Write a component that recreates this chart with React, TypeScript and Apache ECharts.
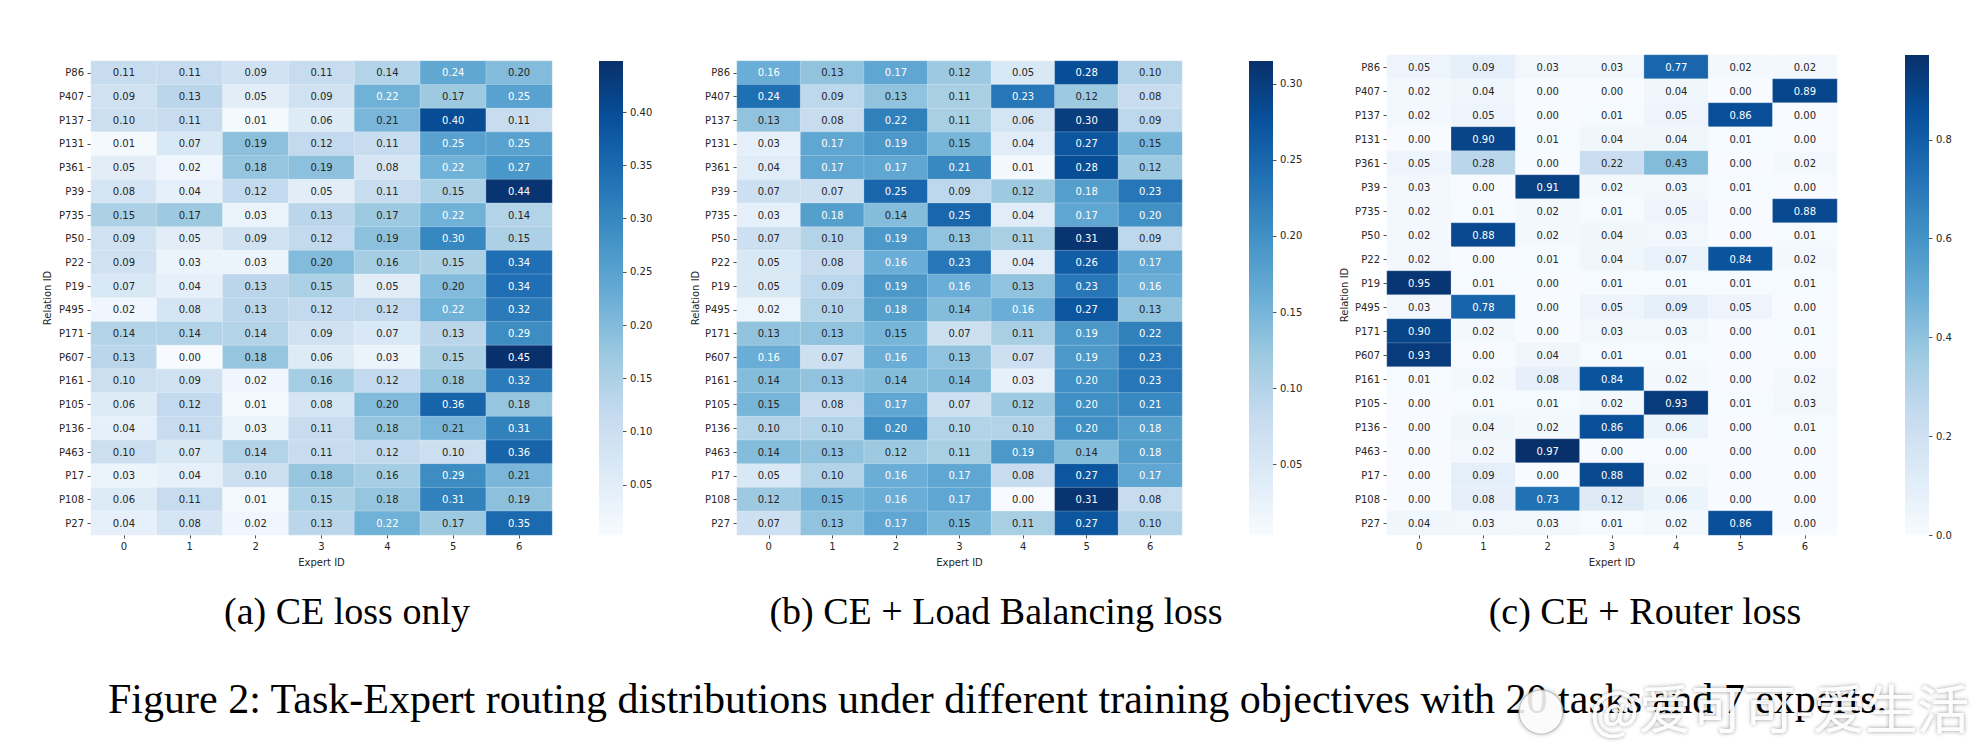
import React, { useEffect, useRef } from 'react';
import * as echarts from 'echarts';

// Relation (task) IDs, top to bottom, and expert IDs, left to right
const relations = ['P86', 'P407', 'P137', 'P131', 'P361', 'P39', 'P735', 'P50', 'P22', 'P19',
  'P495', 'P171', 'P607', 'P161', 'P105', 'P136', 'P463', 'P17', 'P108', 'P27'];
const experts = ['0', '1', '2', '3', '4', '5', '6'];

// Routing probabilities, one row per relation, one column per expert
const ceOnly = [
  [0.11, 0.11, 0.09, 0.11, 0.14, 0.24, 0.20],
  [0.09, 0.13, 0.05, 0.09, 0.22, 0.17, 0.25],
  [0.10, 0.11, 0.01, 0.06, 0.21, 0.40, 0.11],
  [0.01, 0.07, 0.19, 0.12, 0.11, 0.25, 0.25],
  [0.05, 0.02, 0.18, 0.19, 0.08, 0.22, 0.27],
  [0.08, 0.04, 0.12, 0.05, 0.11, 0.15, 0.44],
  [0.15, 0.17, 0.03, 0.13, 0.17, 0.22, 0.14],
  [0.09, 0.05, 0.09, 0.12, 0.19, 0.30, 0.15],
  [0.09, 0.03, 0.03, 0.20, 0.16, 0.15, 0.34],
  [0.07, 0.04, 0.13, 0.15, 0.05, 0.20, 0.34],
  [0.02, 0.08, 0.13, 0.12, 0.12, 0.22, 0.32],
  [0.14, 0.14, 0.14, 0.09, 0.07, 0.13, 0.29],
  [0.13, 0.00, 0.18, 0.06, 0.03, 0.15, 0.45],
  [0.10, 0.09, 0.02, 0.16, 0.12, 0.18, 0.32],
  [0.06, 0.12, 0.01, 0.08, 0.20, 0.36, 0.18],
  [0.04, 0.11, 0.03, 0.11, 0.18, 0.21, 0.31],
  [0.10, 0.07, 0.14, 0.11, 0.12, 0.10, 0.36],
  [0.03, 0.04, 0.10, 0.18, 0.16, 0.29, 0.21],
  [0.06, 0.11, 0.01, 0.15, 0.18, 0.31, 0.19],
  [0.04, 0.08, 0.02, 0.13, 0.22, 0.17, 0.35],
];

const ceLoadBalancing = [
  [0.16, 0.13, 0.17, 0.12, 0.05, 0.28, 0.10],
  [0.24, 0.09, 0.13, 0.11, 0.23, 0.12, 0.08],
  [0.13, 0.08, 0.22, 0.11, 0.06, 0.30, 0.09],
  [0.03, 0.17, 0.19, 0.15, 0.04, 0.27, 0.15],
  [0.04, 0.17, 0.17, 0.21, 0.01, 0.28, 0.12],
  [0.07, 0.07, 0.25, 0.09, 0.12, 0.18, 0.23],
  [0.03, 0.18, 0.14, 0.25, 0.04, 0.17, 0.20],
  [0.07, 0.10, 0.19, 0.13, 0.11, 0.31, 0.09],
  [0.05, 0.08, 0.16, 0.23, 0.04, 0.26, 0.17],
  [0.05, 0.09, 0.19, 0.16, 0.13, 0.23, 0.16],
  [0.02, 0.10, 0.18, 0.14, 0.16, 0.27, 0.13],
  [0.13, 0.13, 0.15, 0.07, 0.11, 0.19, 0.22],
  [0.16, 0.07, 0.16, 0.13, 0.07, 0.19, 0.23],
  [0.14, 0.13, 0.14, 0.14, 0.03, 0.20, 0.23],
  [0.15, 0.08, 0.17, 0.07, 0.12, 0.20, 0.21],
  [0.10, 0.10, 0.20, 0.10, 0.10, 0.20, 0.18],
  [0.14, 0.13, 0.12, 0.11, 0.19, 0.14, 0.18],
  [0.05, 0.10, 0.16, 0.17, 0.08, 0.27, 0.17],
  [0.12, 0.15, 0.16, 0.17, 0.00, 0.31, 0.08],
  [0.07, 0.13, 0.17, 0.15, 0.11, 0.27, 0.10],
];

const ceRouter = [
  [0.05, 0.09, 0.03, 0.03, 0.77, 0.02, 0.02],
  [0.02, 0.04, 0.00, 0.00, 0.04, 0.00, 0.89],
  [0.02, 0.05, 0.00, 0.01, 0.05, 0.86, 0.00],
  [0.00, 0.90, 0.01, 0.04, 0.04, 0.01, 0.00],
  [0.05, 0.28, 0.00, 0.22, 0.43, 0.00, 0.02],
  [0.03, 0.00, 0.91, 0.02, 0.03, 0.01, 0.00],
  [0.02, 0.01, 0.02, 0.01, 0.05, 0.00, 0.88],
  [0.02, 0.88, 0.02, 0.04, 0.03, 0.00, 0.01],
  [0.02, 0.00, 0.01, 0.04, 0.07, 0.84, 0.02],
  [0.95, 0.01, 0.00, 0.01, 0.01, 0.01, 0.01],
  [0.03, 0.78, 0.00, 0.05, 0.09, 0.05, 0.00],
  [0.90, 0.02, 0.00, 0.03, 0.03, 0.00, 0.01],
  [0.93, 0.00, 0.04, 0.01, 0.01, 0.00, 0.00],
  [0.01, 0.02, 0.08, 0.84, 0.02, 0.00, 0.02],
  [0.00, 0.01, 0.01, 0.02, 0.93, 0.01, 0.03],
  [0.00, 0.04, 0.02, 0.86, 0.06, 0.00, 0.01],
  [0.00, 0.02, 0.97, 0.00, 0.00, 0.00, 0.00],
  [0.00, 0.09, 0.00, 0.88, 0.02, 0.00, 0.00],
  [0.00, 0.08, 0.73, 0.12, 0.06, 0.00, 0.00],
  [0.04, 0.03, 0.03, 0.01, 0.02, 0.86, 0.00],
];

// Colour-scale extents and colorbar tick labels
const rangeCeOnly = [0.003, 0.448];
const rangeLoadBalancing = [0.0035, 0.315];
const rangeRouter = [0.0, 0.972];
const ticksCeOnly = [0.05, 0.10, 0.15, 0.20, 0.25, 0.30, 0.35, 0.40];
const ticksLoadBalancing = [0.05, 0.10, 0.15, 0.20, 0.25, 0.30];
const ticksRouter = [0.0, 0.2, 0.4, 0.6, 0.8];

const subCaptions = ['(a) CE loss only', '(b) CE + Load Balancing loss', '(c) CE + Router loss'];
const figureCaption = 'Figure 2: Task-Expert routing distributions under different training objectives with 20 tasks and 7 experts.';
const watermark = '@爱可可-爱生活';
const xName = 'Expert ID';
const yName = 'Relation ID';

// "Blues" sequential palette
const BLUES = ['#f7fbff', '#deebf7', '#c6dbef', '#9ecae1', '#6baed6', '#4292c6', '#2171b5', '#08519c', '#08306b'];

const TICK_FONT = '"DejaVu Sans", sans-serif';
const SERIF = '"Liberation Serif", "Times New Roman", serif';
const INK = '#262626';

function hexToRgb(h: string): number[] {
  const n = parseInt(h.slice(1), 16);
  return [(n >> 16) & 255, (n >> 8) & 255, n & 255];
}

function bluesAt(t: number): number[] {
  const c = Math.max(0, Math.min(1, t)) * (BLUES.length - 1);
  const i = Math.min(Math.floor(c), BLUES.length - 2);
  const f = c - i;
  const a = hexToRgb(BLUES[i]);
  const b = hexToRgb(BLUES[i + 1]);
  return a.map((v, k) => v + (b[k] - v) * f);
}

function luminance(rgb: number[]): number {
  const lin = rgb.map((v) => {
    const c = v / 255;
    return c <= 0.03928 ? c / 12.92 : Math.pow((c + 0.055) / 1.055, 2.4);
  });
  return 0.2126 * lin[0] + 0.7152 * lin[1] + 0.0722 * lin[2];
}

const panels = [
  {
    data: ceOnly, range: rangeCeOnly, ticks: ticksCeOnly, digits: 2,
    grid: { left: 91, top: 61, width: 461, height: 474 },
    bar: { left: 599, top: 61, width: 24, height: 474 },
    yNameX: 47, captionX: 347,
  },
  {
    data: ceLoadBalancing, range: rangeLoadBalancing, ticks: ticksLoadBalancing, digits: 2,
    grid: { left: 737, top: 61, width: 445, height: 474 },
    bar: { left: 1249, top: 61, width: 24, height: 474 },
    yNameX: 695, captionX: 996,
  },
  {
    data: ceRouter, range: rangeRouter, ticks: ticksRouter, digits: 1,
    grid: { left: 1387, top: 55, width: 450, height: 480 },
    bar: { left: 1905, top: 55, width: 24, height: 480 },
    yNameX: 1344, captionX: 1645,
  },
];

function buildOption() {
  const grids: any[] = [];
  const xAxes: any[] = [];
  const yAxes: any[] = [];
  const visualMaps: any[] = [];
  const series: any[] = [];
  const graphics: any[] = [];

  panels.forEach((p, i) => {
    grids.push({ ...p.grid, containLabel: false });
    xAxes.push({
      type: 'category', gridIndex: i, data: experts, position: 'bottom',
      axisLine: { show: false },
      axisTick: { show: true, alignWithLabel: true, length: 3.5, lineStyle: { color: INK, width: 0.8 } },
      axisLabel: { margin: 6, fontSize: 10, color: INK, fontFamily: TICK_FONT },
      splitLine: { show: false },
    });
    yAxes.push({
      type: 'category', gridIndex: i, data: relations, inverse: true,
      axisLine: { show: false },
      axisTick: { show: true, alignWithLabel: true, length: 3.5, lineStyle: { color: INK, width: 0.8 } },
      axisLabel: { margin: 7, fontSize: 10, color: INK, fontFamily: TICK_FONT },
      splitLine: { show: false },
    });
    visualMaps.push({
      type: 'continuous', show: false, seriesIndex: i, dimension: 2,
      min: p.range[0], max: p.range[1], inRange: { color: BLUES },
    });
    const cells: any[] = [];
    p.data.forEach((row, r) => {
      row.forEach((v, c) => {
        const t = (v - p.range[0]) / (p.range[1] - p.range[0]);
        const textColor = luminance(bluesAt(t)) > 0.408 ? INK : '#ffffff';
        cells.push({ value: [c, r, v], label: { color: textColor } });
      });
    });
    series.push({
      type: 'heatmap', xAxisIndex: i, yAxisIndex: i, data: cells,
      itemStyle: { borderColor: 'rgba(255,255,255,0.45)', borderWidth: 0.5 },
      label: {
        show: true, fontSize: 10, fontFamily: TICK_FONT,
        formatter: (q: any) => q.value[2].toFixed(2),
      },
      emphasis: { disabled: true },
    });
    graphics.push({
      type: 'text', x: p.yNameX, y: p.grid.top + p.grid.height / 2, rotation: Math.PI / 2,
      style: { text: yName, fill: INK, font: `10px ${TICK_FONT}`, align: 'center', verticalAlign: 'middle' },
    });
    graphics.push({
      type: 'text', x: p.grid.left + p.grid.width / 2, y: 562,
      style: { text: xName, fill: INK, font: `10px ${TICK_FONT}`, align: 'center', verticalAlign: 'middle' },
    });
    graphics.push({
      type: 'text', x: p.captionX, y: 611,
      style: { text: subCaptions[i], fill: '#000', font: `38px ${SERIF}`, align: 'center', verticalAlign: 'middle' },
    });
  });

  // Colorbars: a gradient-filled grid with a value axis carrying the ticks
  panels.forEach((p, i) => {
    const gi = panels.length + i;
    grids.push({
      ...p.bar, show: true, borderWidth: 0,
      backgroundColor: new echarts.graphic.LinearGradient(0, 1, 0, 0,
        BLUES.map((c, k) => ({ offset: k / (BLUES.length - 1), color: c }))),
    });
    xAxes.push({
      type: 'category', gridIndex: gi, data: [''], show: false,
      axisLine: { show: false, onZero: false }, axisTick: { show: false }, axisLabel: { show: false },
    });
    yAxes.push({
      type: 'value', gridIndex: gi, min: p.range[0], max: p.range[1], position: 'right',
      axisLine: { show: false, onZero: false },
      splitLine: { show: false },
      axisTick: { show: true, length: 3.5, customValues: p.ticks, lineStyle: { color: INK, width: 0.8 } },
      axisLabel: {
        show: true, customValues: p.ticks, margin: 7, fontSize: 10, color: INK, fontFamily: TICK_FONT,
        formatter: (v: number) => v.toFixed(p.digits),
      },
    });
  });

  graphics.push({
    type: 'text', x: 108, y: 699,
    style: { text: figureCaption, fill: '#000', font: `42px ${SERIF}`, align: 'left', verticalAlign: 'middle' },
  });
  graphics.push({
    type: 'circle', shape: { cx: 1541, cy: 712, r: 22 },
    style: { fill: 'rgba(255,255,255,0.85)', stroke: 'rgba(170,170,170,0.6)', lineWidth: 1.5, shadowColor: 'rgba(0,0,0,0.3)', shadowBlur: 4 },
  });
  graphics.push({
    type: 'text', x: 1590, y: 706,
    style: {
      text: watermark, fill: 'rgba(255,255,255,0.92)', font: '52px "Noto Sans CJK SC"',
      align: 'left', verticalAlign: 'middle',
      textShadowColor: 'rgba(0,0,0,0.45)', textShadowBlur: 4,
    },
  });

  return {
    animation: false,
    backgroundColor: '#ffffff',
    grid: grids,
    xAxis: xAxes,
    yAxis: yAxes,
    visualMap: visualMaps,
    series,
    graphic: graphics,
  };
}

export default function App() {
  const ref = useRef<HTMLDivElement>(null);
  useEffect(() => {
    if (!ref.current) return;
    const chart = echarts.init(ref.current, null, { renderer: 'svg' });
    chart.setOption(buildOption());
    return () => chart.dispose();
  }, []);
  return (
    <div
      ref={ref}
      style={{ position: 'fixed', left: 0, top: 0, width: 1988, height: 754, background: '#fff' }}
    />
  );
}
